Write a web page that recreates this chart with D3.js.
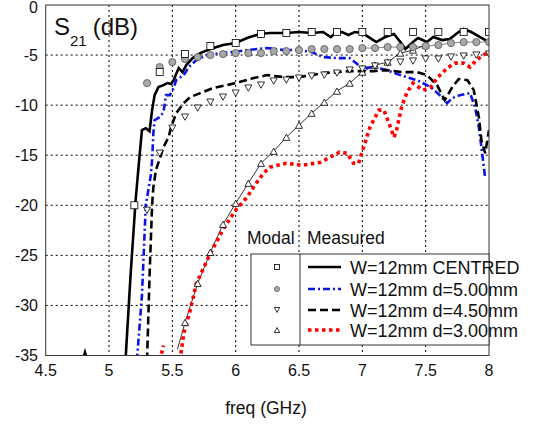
<!DOCTYPE html>
<html>
<head>
<meta charset="utf-8">
<script src="https://cdn.jsdelivr.net/npm/d3@7"></script>
<style>
  body { margin: 0; background: #fff; }
  svg { display: block; font-family: 'Liberation Sans', Arial, sans-serif; }
</style>
</head>
<body>
<svg id="chart" width="537" height="425"></svg>
<script>
// ---- data ----
const xTicks = [4.5, 5, 5.5, 6, 6.5, 7, 7.5, 8];
const yTicks = [0, -5, -10, -15, -20, -25, -30, -35];

// modal results (markers)
const squareF = [5.2, 5.4, 5.6, 5.8, 6.0, 6.2, 6.4, 6.6, 6.8, 7.0, 7.2, 7.4, 7.6, 7.8, 8.0];
const squareV = [-20.0, -6.7, -4.9, -4.1, -3.8, -2.9, -2.8, -2.7, -2.7, -2.7, -2.7, -2.7, -2.7, -2.7, -2.7];

const circleF = [5.3, 5.4, 5.5, 5.6, 5.7, 5.8, 5.9, 6.0, 6.1, 6.2, 6.3, 6.4, 6.5, 6.6, 6.7, 6.8, 6.9, 7.0, 7.1, 7.2, 7.3, 7.4, 7.5, 7.6, 7.7, 7.8, 7.9, 8.0];
const circleV = [-7.8, -6.2, -5.7, -5.4, -5.2, -5.0, -4.9, -4.8, -4.8, -4.8, -4.6, -4.6, -4.5, -4.4, -4.4, -4.4, -4.4, -4.3, -4.3, -4.2, -4.2, -4.2, -4.1, -4.0, -3.8, -3.7, -3.7, -3.7];

const triDownF = [5.3, 5.4, 5.5, 5.6, 5.7, 5.8, 5.9, 6.0, 6.1, 6.2, 6.3, 6.4, 6.5, 6.6, 6.7, 6.8, 6.9, 7.0, 7.1, 7.2, 7.3, 7.4, 7.5, 7.6, 7.7, 7.8, 7.9, 8.0];
const triDownV = [-20.5, -14.8, -12.3, -11.2, -10.3, -9.7, -9.2, -8.8, -8.3, -8.0, -7.6, -7.5, -7.3, -7.1, -7.0, -6.8, -6.5, -6.4, -6.1, -5.8, -5.7, -5.6, -5.4, -5.4, -5.2, -5.1, -5.0, -4.9];

const triUpF = [5.6, 5.7, 5.8, 5.9, 6.0, 6.1, 6.2, 6.3, 6.4, 6.5, 6.6, 6.7, 6.8, 6.9, 7.0, 7.1, 7.2, 7.3, 7.4, 7.5];
const triUpV = [-31.7, -27.8, -24.7, -21.9, -19.8, -17.8, -15.8, -14.6, -13.2, -12.0, -10.8, -9.7, -8.6, -7.8, -6.7, -6.0, -5.7, -4.8, -4.5, -4.0];
const triUpLineStart = [5.54, -34.4];

// measured results (lines); null value = gap
const centredF = [4.78, 4.81, 4.84, 4.85, 5.13, 5.17, 5.21, 5.24, 5.26, 5.29, 5.32, 5.34, 5.36, 5.39, 5.43, 5.46, 5.49, 5.51, 5.55, 5.58, 5.61, 5.66, 5.72, 5.80, 5.90, 6.0, 6.09, 6.19, 6.27, 6.40, 6.50, 6.60, 6.69, 6.75, 6.79, 6.84, 6.89, 6.94, 7.0, 7.05, 7.11, 7.18, 7.25, 7.30, 7.34, 7.40, 7.44, 7.51, 7.56, 7.63, 7.69, 7.76, 7.80, 7.86, 7.93, 8.0];
const centredV = [-36, -34.7, -36, null, -35.5, -27, -19.5, -15.2, -12.5, -12.3, -12.6, -10.5, -9.0, -8.2, -8.0, -7.8, -7.9, -7.5, -6.3, -6.7, -6.0, -5.3, -4.8, -4.4, -4.0, -3.8, -3.3, -2.9, -2.8, -2.8, -2.7, -2.8, -2.7, -3.2, -2.8, -2.7, -3.0, -2.7, -2.8, -3.2, -3.7, -3.2, -2.9, -3.7, -4.4, -3.7, -3.3, -3.7, -3.2, -3.5, -3.4, -2.7, -2.4, -2.7, -3.2, -3.7];

const d500F = [5.22, 5.26, 5.29, 5.33, 5.34, 5.35, 5.36, 5.40, 5.43, 5.45, 5.48, 5.51, 5.53, 5.59, 5.63, 5.69, 5.77, 5.88, 5.98, 6.09, 6.25, 6.38, 6.50, 6.60, 6.69, 6.80, 6.90, 6.95, 7.0, 7.09, 7.19, 7.30, 7.43, 7.54, 7.61, 7.67, 7.71, 7.77, 7.85, 7.89, 7.92, 7.94, 7.97];
const d500V = [-35.5, -29, -20, -17, -15.5, -12.8, -11.5, -11.2, -10.7, -9.0, -9.0, -8.3, -7.5, -7.0, -6.2, -5.5, -5.0, -4.8, -4.7, -4.5, -4.3, -4.5, -4.5, -4.7, -5.2, -5.3, -5.3, -5.8, -6.3, -6.2, -6.5, -7.0, -7.5, -8.2, -9.0, -9.8, -9.3, -9.0, -8.8, -10.2, -12.2, -14.2, -17.3];

const d450F = [5.30, 5.32, 5.34, 5.35, 5.37, 5.43, 5.47, 5.49, 5.53, 5.59, 5.64, 5.72, 5.82, 5.93, 6.03, 6.14, 6.25, 6.38, 6.50, 6.60, 6.69, 6.80, 6.90, 7.0, 7.09, 7.19, 7.32, 7.43, 7.51, 7.59, 7.65, 7.71, 7.76, 7.83, 7.88, 7.92, 7.94, 7.97, 8.0];
const d450V = [-35.5, -27, -20, -18.2, -16.5, -14.2, -13.2, -12.2, -10.8, -9.8, -9.2, -8.8, -8.3, -8.0, -7.7, -7.3, -7.0, -7.2, -7.2, -7.0, -6.8, -6.7, -6.6, -6.6, -6.6, -6.5, -6.7, -6.7, -7.0, -8.0, -9.5, -8.2, -7.4, -7.5, -8.5, -11.2, -13.5, -14.8, -12.5];

const d300F = [5.40, 5.43, 5.50, 5.56, 5.59, 5.63, 5.65, 5.69, 5.80, 5.91, 6.01, 6.09, 6.15, 6.22, 6.27, 6.33, 6.40, 6.53, 6.67, 6.82, 6.88, 6.93, 6.97, 7.01, 7.06, 7.13, 7.17, 7.21, 7.25, 7.27, 7.31, 7.35, 7.40, 7.48, 7.54, 7.59, 7.67, 7.73, 7.80, 7.85, 7.90, 7.98];
const d300V = [-35.5, -34.0, null, -35.5, -32.8, -31, -30, -27.8, -24.8, -22.2, -20.3, -19.2, -18.0, -16.8, -16.2, -16.0, -15.8, -16.0, -15.7, -14.7, -14.8, -15.8, -15.8, -14.2, -12.2, -10.5, -10.5, -11.8, -13.2, -12.5, -10.2, -8.8, -7.8, -8.5, -8.2, -7.3, -6.3, -5.8, -5.8, -6.2, -5.5, -4.8];

const legendLabels = ['W=12mm CENTRED', 'W=12mm d=5.00mm', 'W=12mm d=4.50mm', 'W=12mm d=3.00mm'];

// ---- layout ----
const svg = d3.select('#chart');
const x = d3.scaleLinear().domain([4.5, 8]).range([45.7, 489]);
const y = d3.scaleLinear().domain([0, -35]).range([5, 355.5]);

svg.append('defs').append('clipPath').attr('id', 'plotClip')
    .append('rect')
    .attr('x', x(4.5)).attr('y', y(0))
    .attr('width', x(8) - x(4.5)).attr('height', y(-35) - y(0));

// grid
const grid = svg.append('g');
grid.selectAll('.gx').data(xTicks.slice(1, -1)).enter().append('line')
    .attr('x1', d => x(d)).attr('x2', d => x(d))
    .attr('y1', y(0)).attr('y2', y(-35))
    .attr('stroke', '#000').attr('stroke-width', 1).attr('stroke-dasharray', '2,3');
grid.selectAll('.gy').data(yTicks.slice(1, -1)).enter().append('line')
    .attr('x1', x(4.5)).attr('x2', x(8))
    .attr('y1', d => y(d)).attr('y2', d => y(d))
    .attr('stroke', '#000').attr('stroke-width', 1).attr('stroke-dasharray', '2,3');

// tick labels (top one nudged so it stays inside the page)
svg.selectAll('.ytl').data(yTicks).enter().append('text')
    .attr('x', 38).attr('y', d => Math.max(y(d) + 5.5, 13))
    .attr('text-anchor', 'end').attr('font-size', '16px').attr('fill', '#111')
    .text(d => d);
svg.selectAll('.xtl').data(xTicks).enter().append('text')
    .attr('x', d => x(d)).attr('y', 376)
    .attr('text-anchor', 'middle').attr('font-size', '16px').attr('fill', '#111')
    .text(d => d);

svg.append('text').attr('x', 266).attr('y', 414)
    .attr('text-anchor', 'middle').attr('font-size', '17.5px').attr('fill', '#111')
    .text('freq (GHz)');

// S21 label
const s21 = svg.append('text').attr('x', 54).attr('y', 35).attr('font-size', '24px').attr('fill', '#111');
s21.append('tspan').text('S');
s21.append('tspan').attr('font-size', '15px').attr('dy', 11).text('21');
s21.append('tspan').attr('dy', -11).attr('dx', 6).text('(dB)');

// ---- series ----
const plot = svg.append('g').attr('clip-path', 'url(#plotClip)');
const pair = (fs, vs) => fs.map((f, i) => [f, vs[i]]);
const line = d3.line().defined(d => d[1] !== null).x(d => x(d[0])).y(d => y(d[1]));

// thin modal connector lines
plot.append('path').datum(pair(circleF, circleV).filter(d => d[0] >= 6.95))
    .attr('d', line).attr('fill', 'none').attr('stroke', '#555').attr('stroke-width', 0.7);
plot.append('path').datum([triUpLineStart].concat(pair(triUpF, triUpV)))
    .attr('d', line).attr('fill', 'none').attr('stroke', '#000').attr('stroke-width', 0.8);

const styles = [
    { data: pair(centredF, centredV), color: '#000', dash: null, w: 2.6 },
    { data: pair(d500F, d500V), color: '#0a14e6', dash: '7,3,2,3', w: 2.6 },
    { data: pair(d450F, d450V), color: '#000', dash: '8,4', w: 2.6 },
    { data: pair(d300F, d300V), color: '#f00', dash: '3.5,3.5', w: 3.6 }
];

const triDown = s => {
    const h = s * 0.9;
    return `M${-s / 2},${-h / 2}L${s / 2},${-h / 2}L0,${h / 2}Z`;
};
const triUp = s => {
    const h = s * 0.9;
    return `M${-s / 2},${h / 2}L${s / 2},${h / 2}L0,${-h / 2}Z`;
};

styles.forEach(s => {
    const p = plot.append('path').datum(s.data)
        .attr('d', line).attr('fill', 'none')
        .attr('stroke', s.color).attr('stroke-width', s.w);
    if (s.dash) p.attr('stroke-dasharray', s.dash);
});

plot.selectAll('.tu').data(pair(triUpF, triUpV)).enter().append('path')
    .attr('transform', d => `translate(${x(d[0])},${y(d[1])})`)
    .attr('d', triUp(7)).attr('fill', '#fff').attr('stroke', '#000').attr('stroke-width', 0.8);
plot.selectAll('.td').data(pair(triDownF, triDownV)).enter().append('path')
    .attr('transform', d => `translate(${x(d[0])},${y(d[1])})`)
    .attr('d', triDown(7)).attr('fill', '#fff').attr('stroke', '#000').attr('stroke-width', 0.8);
plot.selectAll('.ci').data(pair(circleF, circleV)).enter().append('circle')
    .attr('cx', d => x(d[0])).attr('cy', d => y(d[1])).attr('r', 3.6)
    .attr('fill', '#a8a8a8').attr('stroke', '#555').attr('stroke-width', 0.8);
plot.selectAll('.sq').data(pair(squareF, squareV)).enter().append('rect')
    .attr('x', d => x(d[0]) - 3.5).attr('y', d => y(d[1]) - 3.5)
    .attr('width', 7).attr('height', 7)
    .attr('fill', '#fff').attr('stroke', '#000').attr('stroke-width', 0.8);

// frame
svg.append('rect')
    .attr('x', x(4.5)).attr('y', y(0))
    .attr('width', x(8) - x(4.5)).attr('height', y(-35) - y(0))
    .attr('fill', 'none').attr('stroke', '#333').attr('stroke-width', 1);

// ---- legend ----
svg.append('text').attr('x', 247).attr('y', 244).attr('font-size', '17.5px').attr('fill', '#111').text('Modal');
svg.append('text').attr('x', 307).attr('y', 244).attr('font-size', '17.5px').attr('fill', '#111').text('Measured');

const lg = svg.append('g');
lg.append('rect').attr('x', 251).attr('y', 254).attr('width', 238).attr('height', 91)
    .attr('fill', '#fff').attr('stroke', '#333').attr('stroke-width', 1);
lg.append('line').attr('x1', 300).attr('x2', 300).attr('y1', 254).attr('y2', 345)
    .attr('stroke', '#333').attr('stroke-width', 1);

const rowY = [267, 289, 310, 330];
const mk = lg.append('g');
mk.append('rect').attr('x', 277 - 2.5).attr('y', rowY[0] - 2.5).attr('width', 5).attr('height', 5)
    .attr('fill', '#fff').attr('stroke', '#000').attr('stroke-width', 0.8);
mk.append('circle').attr('cx', 277).attr('cy', rowY[1]).attr('r', 2.6)
    .attr('fill', '#a8a8a8').attr('stroke', '#555').attr('stroke-width', 0.7);
mk.append('path').attr('transform', `translate(277,${rowY[2]})`).attr('d', triDown(5.5))
    .attr('fill', '#fff').attr('stroke', '#000').attr('stroke-width', 0.8);
mk.append('path').attr('transform', `translate(277,${rowY[3]})`).attr('d', triUp(5.5))
    .attr('fill', '#fff').attr('stroke', '#000').attr('stroke-width', 0.8);

styles.forEach((s, i) => {
    const l = lg.append('line').attr('x1', 308).attr('x2', 341)
        .attr('y1', rowY[i]).attr('y2', rowY[i])
        .attr('stroke', s.color).attr('stroke-width', s.w);
    if (s.dash) l.attr('stroke-dasharray', s.dash);
    lg.append('text').attr('x', 350).attr('y', rowY[i] + 6.5)
        .attr('font-size', '18px').attr('fill', '#111').text(legendLabels[i]);
});
</script>
</body>
</html>
